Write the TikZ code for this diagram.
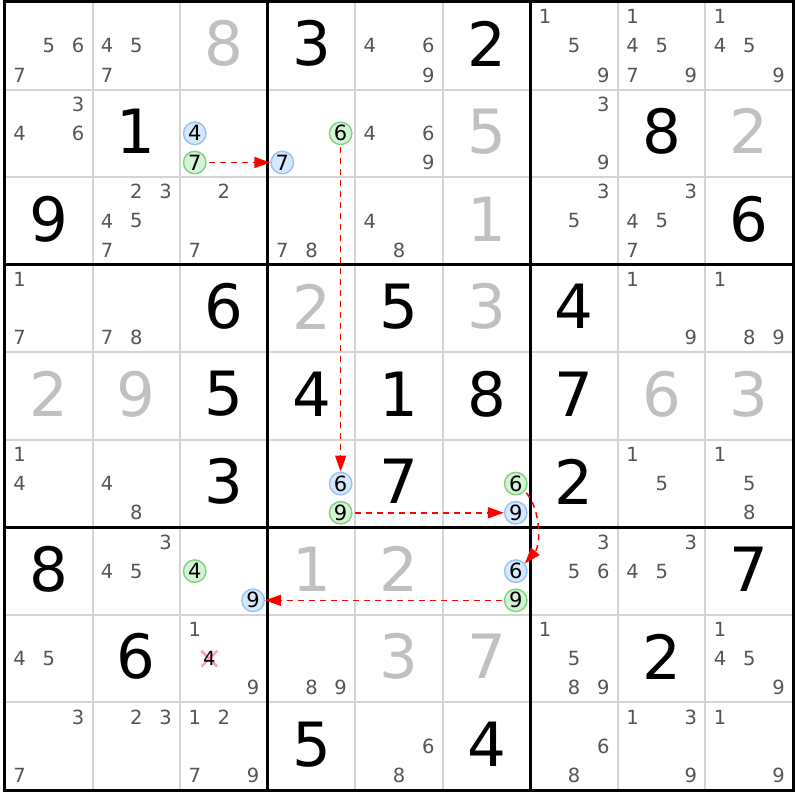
\documentclass[tikz,border=0pt]{standalone}
\usepackage{fontspec}
\setmainfont{DejaVu Sans}
\usepackage{tikz}
\usetikzlibrary{arrows.meta}
\definecolor{candgray}{RGB}{85,85,85}
\definecolor{solvgray}{RGB}{192,192,192}
\definecolor{gridgray}{RGB}{212,212,212}
\definecolor{bluefill}{RGB}{214,232,252}
\definecolor{blueline}{RGB}{150,195,245}
\definecolor{greenfill}{RGB}{212,242,212}
\definecolor{greenline}{RGB}{125,212,125}
\definecolor{crosspink}{RGB}{250,160,178}

\newcommand{\givendigit}[3]{\node [givenbig] (given#1#2) at (#2+0.5,#1+0.5) {#3};}
\newcommand{\solveddigit}[3]{\node [solvedbig] (solved#1#2) at (#2+0.5,#1+0.5) {#3};}
\newcommand{\cand}[3]{\foreach \d in {#3} {\node [candsmall] (cand#1#2\d) at ({#2+0.5+(mod(\d-1,3)-1)/3},{#1+0.5+(floor((\d-1)/3)-1)/3}) {\d};}}
\newcommand{\ringcand}[4]{\node [#4ring] (#4#1#2#3) at ({#2+0.5+(mod(#3-1,3)-1)/3},{#1+0.5+(floor((#3-1)/3)-1)/3}) {#3};}

\begin{document}
\begin{tikzpicture}[x=87.56pt,y=-87.56pt,
  givenbig/.style={inner sep=0pt, yshift=2pt, font=\fontsize{61}{61}\selectfont},
  solvedbig/.style={givenbig, text=solvgray},
  candsmall/.style={inner sep=0pt, text=candgray, font=\fontsize{19.5}{19.5}\selectfont},
  bluering/.style={circle, draw=blueline, fill=bluefill, line width=1.4pt, inner sep=0pt, minimum size=22.5pt, font=\fontsize{21}{21}\selectfont},
  greenring/.style={bluering, draw=greenline, fill=greenfill},
  link/.style={red, line width=1.5pt, dash pattern=on 6pt off 5pt, shorten <=2pt, -{Triangle[length=16pt,width=11pt]}}]
\useasboundingbox (-5pt,2pt) rectangle (795pt,-798pt);
\fill [white] (-5pt,2pt) rectangle (795pt,-798pt);

\foreach \i in {1,2,4,5,7,8} {
\draw [gridgray, line width=2pt] (\i,0)--(\i,9);
\draw [gridgray, line width=2pt] (0,\i)--(9,\i);
}
\foreach \i in {3,6} {
\draw [line width=3pt] (\i,0)--(\i,9);
\draw [line width=3pt] (0,\i)--(9,\i);
}
\draw [line width=3pt] (0,0) rectangle (9,9);

\givendigit{0}{3}{3} \givendigit{0}{5}{2} \givendigit{1}{1}{1} \givendigit{1}{7}{8}
\givendigit{2}{0}{9} \givendigit{2}{8}{6} \givendigit{3}{2}{6} \givendigit{3}{4}{5}
\givendigit{3}{6}{4} \givendigit{4}{2}{5} \givendigit{4}{3}{4} \givendigit{4}{4}{1}
\givendigit{4}{5}{8} \givendigit{4}{6}{7} \givendigit{5}{2}{3} \givendigit{5}{4}{7}
\givendigit{5}{6}{2} \givendigit{6}{0}{8} \givendigit{6}{8}{7} \givendigit{7}{1}{6}
\givendigit{7}{7}{2} \givendigit{8}{3}{5} \givendigit{8}{5}{4}

\solveddigit{0}{2}{8} \solveddigit{1}{5}{5} \solveddigit{1}{8}{2} \solveddigit{2}{5}{1}
\solveddigit{3}{3}{2} \solveddigit{3}{5}{3} \solveddigit{4}{0}{2} \solveddigit{4}{1}{9}
\solveddigit{4}{7}{6} \solveddigit{4}{8}{3} \solveddigit{6}{3}{1} \solveddigit{6}{4}{2}
\solveddigit{7}{4}{3} \solveddigit{7}{5}{7}

\cand{0}{0}{5,6,7} \cand{0}{1}{4,5,7} \cand{0}{4}{4,6,9} \cand{0}{6}{1,5,9}
\cand{0}{7}{1,4,5,7,9} \cand{0}{8}{1,4,5,9}
\cand{1}{0}{3,4,6} \cand{1}{4}{4,6,9} \cand{1}{6}{3,9}
\cand{2}{1}{2,3,4,5,7} \cand{2}{2}{2,7} \cand{2}{3}{7,8} \cand{2}{4}{4,8}
\cand{2}{6}{3,5} \cand{2}{7}{3,4,5,7}
\cand{3}{0}{1,7} \cand{3}{1}{7,8} \cand{3}{7}{1,9} \cand{3}{8}{1,8,9}
\cand{5}{0}{1,4} \cand{5}{1}{4,8} \cand{5}{7}{1,5} \cand{5}{8}{1,5,8}
\cand{6}{1}{3,4,5} \cand{6}{6}{3,5,6} \cand{6}{7}{3,4,5}
\cand{7}{0}{4,5} \cand{7}{2}{1,9} \cand{7}{3}{8,9} \cand{7}{6}{1,5,8,9} \cand{7}{8}{1,4,5,9}
\cand{8}{0}{3,7} \cand{8}{1}{2,3} \cand{8}{2}{1,2,7,9} \cand{8}{4}{6,8}
\cand{8}{6}{6,8} \cand{8}{7}{1,3,9} \cand{8}{8}{1,9}

\draw [crosspink, line width=2.4pt] (2.333-0.09,7.5-0.09)--(2.333+0.09,7.5+0.09);
\draw [crosspink, line width=2.4pt] (2.333-0.09,7.5+0.09)--(2.333+0.09,7.5-0.09);
\node [candsmall, text=black] (cand724) at (2.333,7.5) {4};

\ringcand{1}{2}{4}{blue} \ringcand{1}{2}{7}{green}
\ringcand{1}{3}{6}{green} \ringcand{1}{3}{7}{blue}
\ringcand{5}{3}{6}{blue} \ringcand{5}{3}{9}{green}
\ringcand{5}{5}{6}{green} \ringcand{5}{5}{9}{blue}
\ringcand{6}{5}{6}{blue} \ringcand{6}{5}{9}{green}
\ringcand{6}{2}{4}{green} \ringcand{6}{2}{9}{blue}

\draw [link] (green127) -- (blue137);
\draw [link] (green136) -- (blue536);
\draw [link] (green539) -- (blue559);
\draw [link] (green556.-40) .. controls (6.12,5.8) and (6.12,6.2) .. (blue656.40);
\draw [link] (green659) -- (blue629);

\end{tikzpicture}
\end{document}
